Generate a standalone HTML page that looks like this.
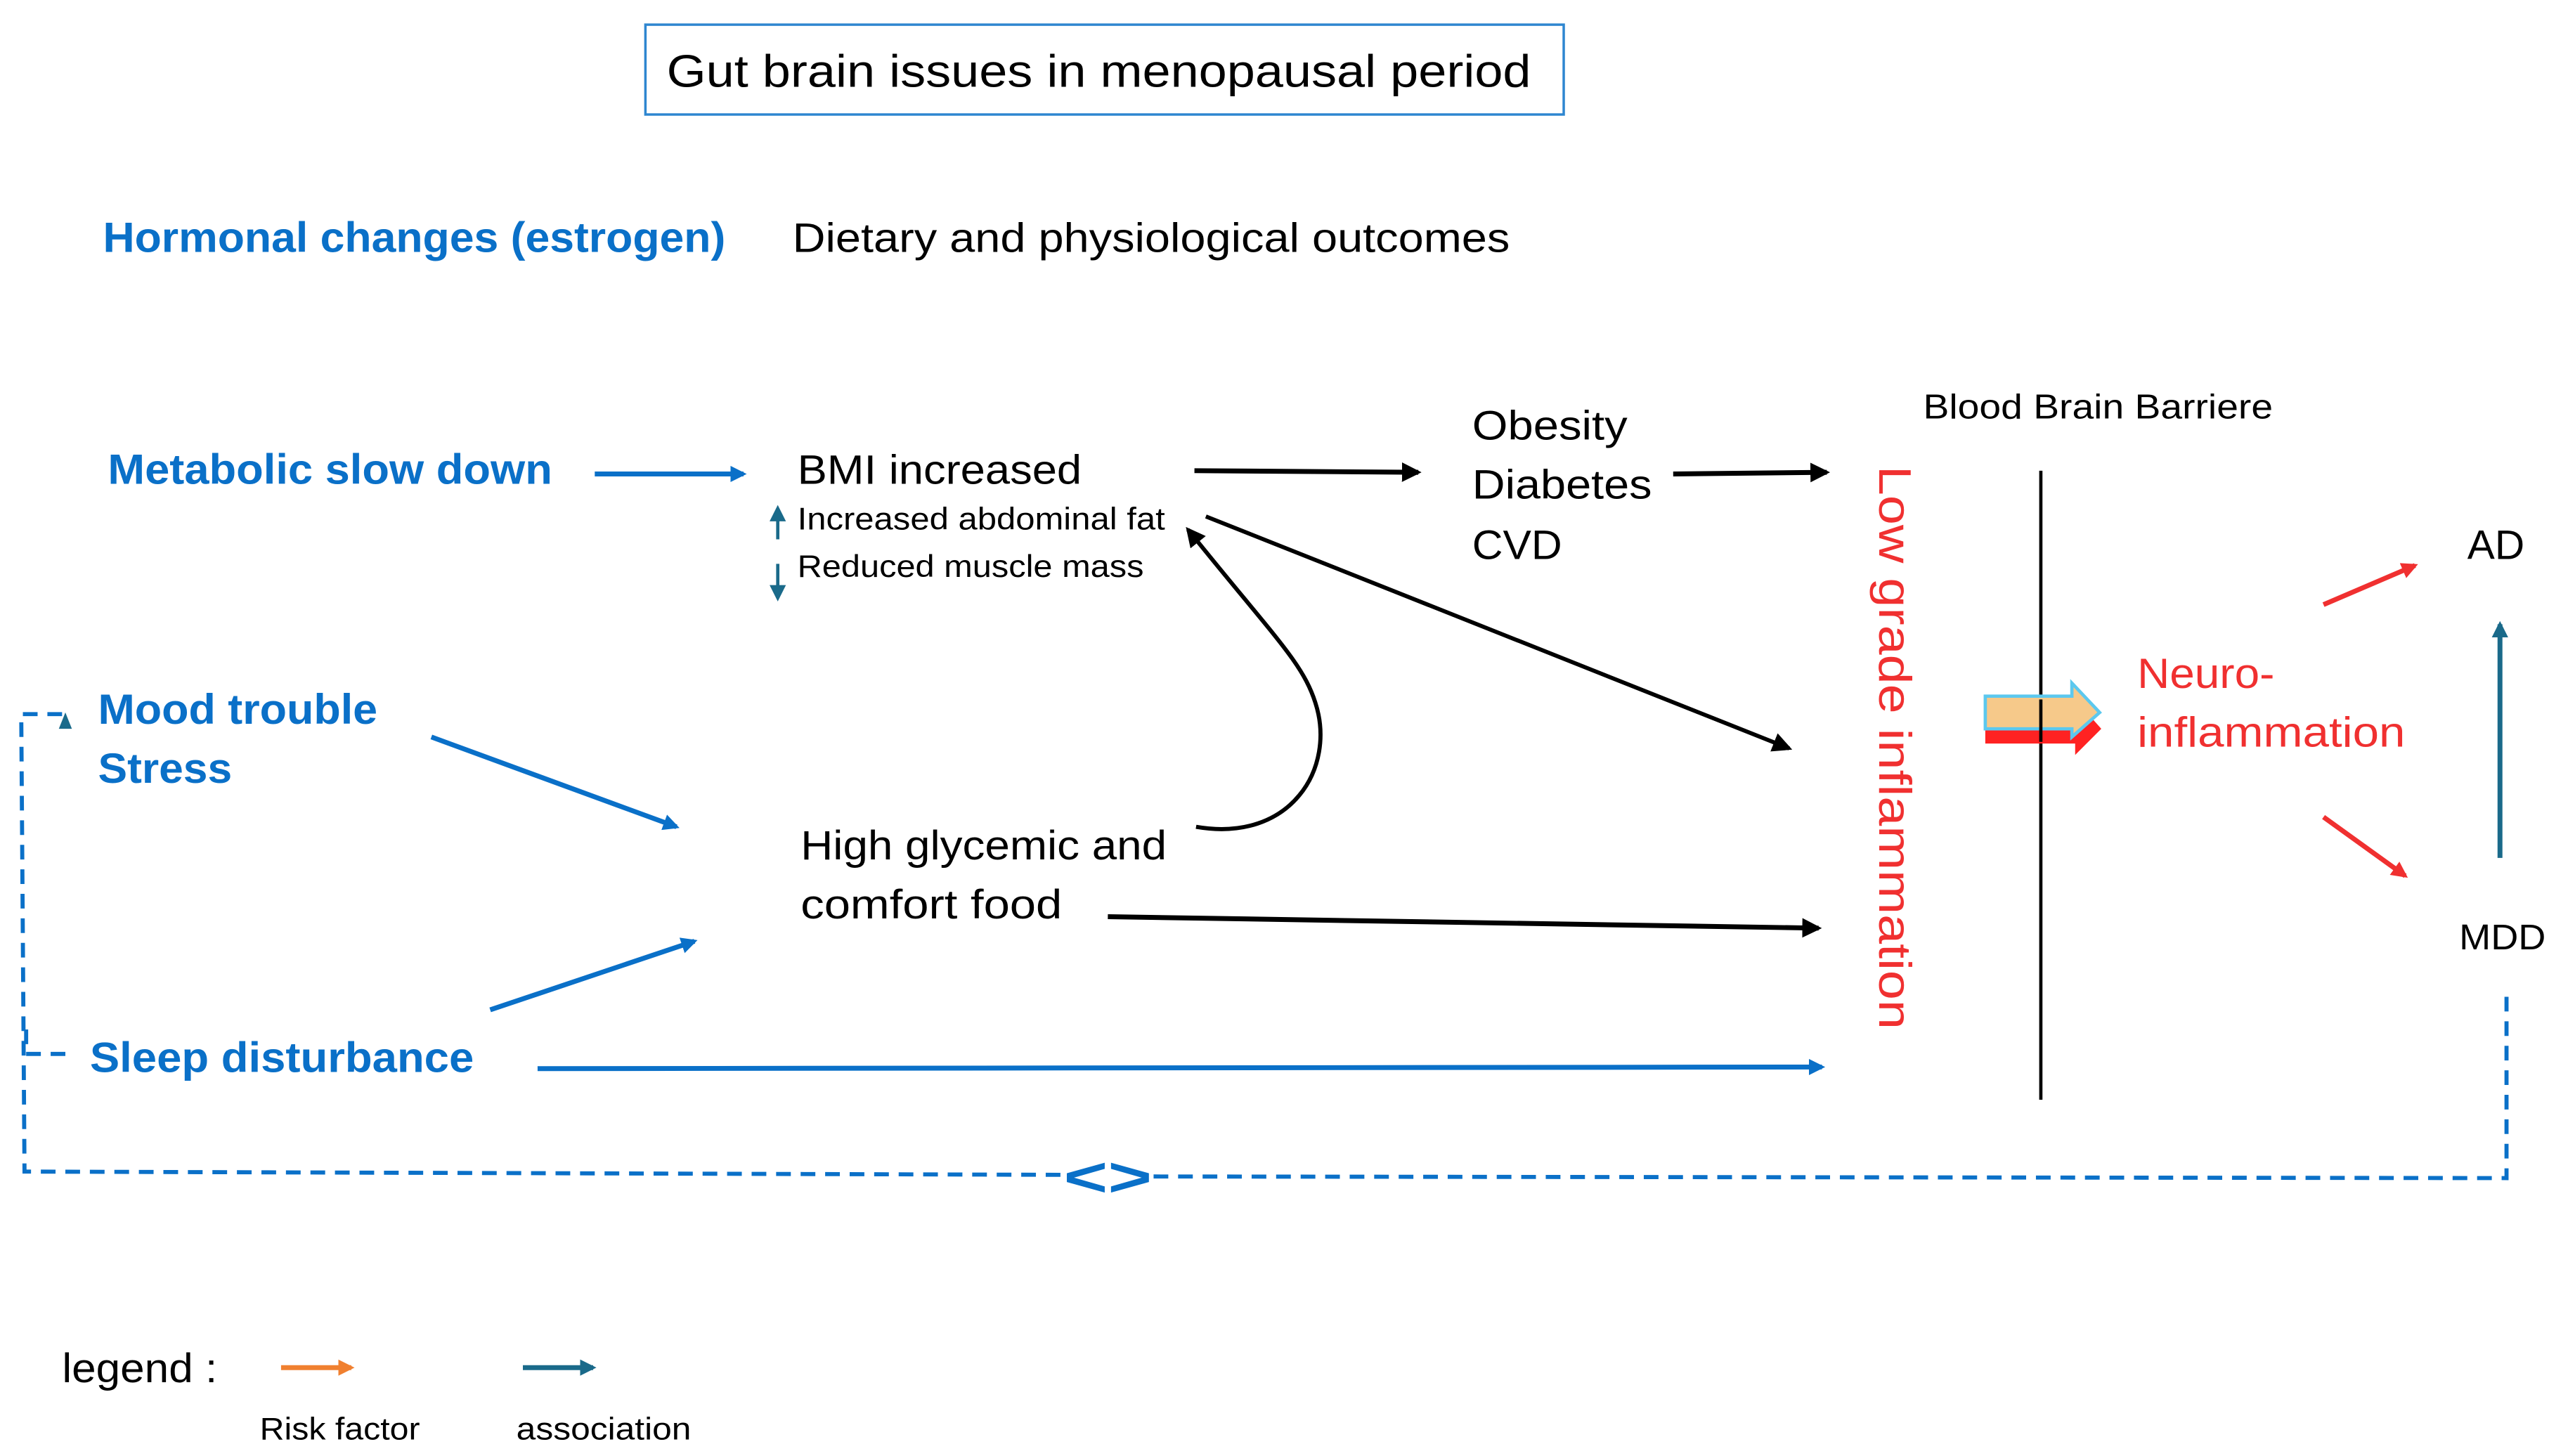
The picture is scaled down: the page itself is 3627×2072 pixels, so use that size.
<!DOCTYPE html>
<html><head><meta charset="utf-8"><style>
html,body{margin:0;padding:0;background:#fff;}
svg{display:block;}
text{font-family:"Liberation Sans",sans-serif;}
</style></head><body>
<svg width="3627" height="2072" viewBox="0 0 1560 891" xmlns="http://www.w3.org/2000/svg">
<defs>
<marker id="mb" markerWidth="10" markerHeight="10" refX="8" refY="5" orient="auto" markerUnits="userSpaceOnUse"><path d="M0,0 L10,5 L0,10 Z" fill="#0a70c8"/></marker>
<marker id="mk" markerWidth="12" markerHeight="12" refX="10" refY="6" orient="auto" markerUnits="userSpaceOnUse"><path d="M0,0 L12,6 L0,12 Z" fill="#000"/></marker>
<marker id="mr" markerWidth="10" markerHeight="10" refX="8" refY="5" orient="auto" markerUnits="userSpaceOnUse"><path d="M0,0 L10,5 L0,10 Z" fill="#f03030"/></marker>
<marker id="mt" markerWidth="10" markerHeight="10" refX="8" refY="5" orient="auto" markerUnits="userSpaceOnUse"><path d="M0,0 L10,5 L0,10 Z" fill="#1a6a8a"/></marker>
<marker id="mo" markerWidth="10" markerHeight="10" refX="8" refY="5" orient="auto" markerUnits="userSpaceOnUse"><path d="M0,0 L10,5 L0,10 Z" fill="#f08030"/></marker>
</defs>
<rect width="1560" height="891" fill="#fff"/>
<rect x="395" y="15" width="562" height="55" fill="none" stroke="#2e86d0" stroke-width="1.5"/>
<text x="408" y="53" font-size="28" textLength="529" lengthAdjust="spacingAndGlyphs">Gut brain issues in menopausal period</text>

<g fill="#0a70c8" font-weight="bold" font-size="26">
<text x="63" y="154" textLength="381" lengthAdjust="spacingAndGlyphs">Hormonal changes (estrogen)</text>
<text x="66" y="296" textLength="272" lengthAdjust="spacingAndGlyphs">Metabolic slow down</text>
<text x="60" y="443" textLength="171" lengthAdjust="spacingAndGlyphs">Mood trouble</text>
<text x="60" y="479" textLength="82" lengthAdjust="spacingAndGlyphs">Stress</text>
<text x="55" y="656" textLength="235" lengthAdjust="spacingAndGlyphs">Sleep disturbance</text>
</g>
<g fill="#000" font-size="25">
<text x="485" y="154" textLength="439" lengthAdjust="spacingAndGlyphs">Dietary and physiological outcomes</text>
<text x="1177" y="256" font-size="21" textLength="214" lengthAdjust="spacingAndGlyphs">Blood Brain Barriere</text>
<text x="488" y="296" textLength="174" lengthAdjust="spacingAndGlyphs">BMI increased</text>
<text x="488" y="324" font-size="19" textLength="225" lengthAdjust="spacingAndGlyphs">Increased abdominal fat</text>
<text x="488" y="353" font-size="19" textLength="212" lengthAdjust="spacingAndGlyphs">Reduced muscle mass</text>
<text x="901" y="269" textLength="95" lengthAdjust="spacingAndGlyphs">Obesity</text>
<text x="901" y="305" textLength="110" lengthAdjust="spacingAndGlyphs">Diabetes</text>
<text x="901" y="342" textLength="55" lengthAdjust="spacingAndGlyphs">CVD</text>
<text x="1510" y="342" textLength="35" lengthAdjust="spacingAndGlyphs">AD</text>
<text x="1505" y="581" font-size="22" textLength="53" lengthAdjust="spacingAndGlyphs">MDD</text>
<text x="490" y="526" textLength="224" lengthAdjust="spacingAndGlyphs">High glycemic and</text>
<text x="490" y="562" textLength="160" lengthAdjust="spacingAndGlyphs">comfort food</text>
<text x="38" y="846" textLength="95" lengthAdjust="spacingAndGlyphs">legend :</text>
<text x="159" y="881" font-size="19" textLength="98" lengthAdjust="spacingAndGlyphs">Risk factor</text>
<text x="316" y="881" font-size="19" textLength="107" lengthAdjust="spacingAndGlyphs">association</text>
</g>
<g fill="#f03030" font-size="26">
<text x="1308" y="421" textLength="84" lengthAdjust="spacingAndGlyphs">Neuro-</text>
<text x="1308" y="457" textLength="164" lengthAdjust="spacingAndGlyphs">inflammation</text>
<text transform="translate(1150,285) rotate(90)" x="0" y="0" font-size="28" textLength="345" lengthAdjust="spacingAndGlyphs">Low grade inflammation</text>
</g>

<g stroke="#0a70c8" stroke-width="3" fill="none">
<line x1="364" y1="290" x2="455" y2="290" marker-end="url(#mb)"/>
<line x1="264" y1="451" x2="414" y2="506" marker-end="url(#mb)"/>
<line x1="300" y1="618" x2="425" y2="576" marker-end="url(#mb)"/>
<line x1="329" y1="654" x2="1115" y2="653" marker-end="url(#mb)"/>
</g>
<g stroke="#000" stroke-width="3" fill="none">
<line x1="731" y1="288" x2="868" y2="289" marker-end="url(#mk)"/>
<line x1="1024" y1="290" x2="1118" y2="289" marker-end="url(#mk)"/>
<line x1="738" y1="316" x2="1095" y2="458" stroke-width="2.5" marker-end="url(#mk)"/>
<line x1="678" y1="561" x2="1113" y2="568" marker-end="url(#mk)"/>
<path d="M732,506 C790,516 818,470 805,430 C797,405 780,390 727,324" stroke-width="2.5" marker-end="url(#mk)"/>
</g>
<line x1="1249" y1="288" x2="1249" y2="673" stroke="#000" stroke-width="2"/>
<path d="M1215,436 L1270,436 L1270,428 L1286,446 L1270,462 L1270,455 L1215,455 Z" fill="#f22"/>
<path d="M1215,426 L1268,426 L1268,418 L1285,436 L1268,451 L1268,446 L1215,446 Z" fill="#f6c98a" stroke="#5cc8ee" stroke-width="2"/>
<line x1="1249" y1="428" x2="1249" y2="454" stroke="#000" stroke-width="2"/>
<line x1="1422" y1="370" x2="1478" y2="346" stroke="#f03030" stroke-width="3" marker-end="url(#mr)"/>
<line x1="1422" y1="500" x2="1472" y2="536" stroke="#f03030" stroke-width="3" marker-end="url(#mr)"/>
<line x1="1530" y1="525" x2="1530" y2="382" stroke="#1a6a8a" stroke-width="3" marker-end="url(#mt)"/>
<line x1="476" y1="330" x2="476" y2="311" stroke="#1a6a8a" stroke-width="2" marker-end="url(#mt)"/>
<line x1="476" y1="345" x2="476" y2="366" stroke="#1a6a8a" stroke-width="2" marker-end="url(#mt)"/>
<g stroke="#0a70c8" stroke-width="2.5" fill="none" stroke-dasharray="9,6">
<polyline points="38,437 13,437 15,717 650,719"/>
<polyline points="706,720 1534,721 1534,605"/>
<polyline points="16,630 16,645 42,645"/>
</g>
<path d="M40,436 L36,446 L44,446 Z" fill="#1a6a8a"/>
<text x="678" y="732" font-size="34" font-weight="bold" fill="#0a70c8" text-anchor="middle" textLength="54" lengthAdjust="spacingAndGlyphs">&lt;&gt;</text>
<line x1="172" y1="837" x2="215" y2="837" stroke="#f08030" stroke-width="3" marker-end="url(#mo)"/>
<line x1="320" y1="837" x2="363" y2="837" stroke="#1a6a8a" stroke-width="3" marker-end="url(#mt)"/>
</svg>
</body></html>
